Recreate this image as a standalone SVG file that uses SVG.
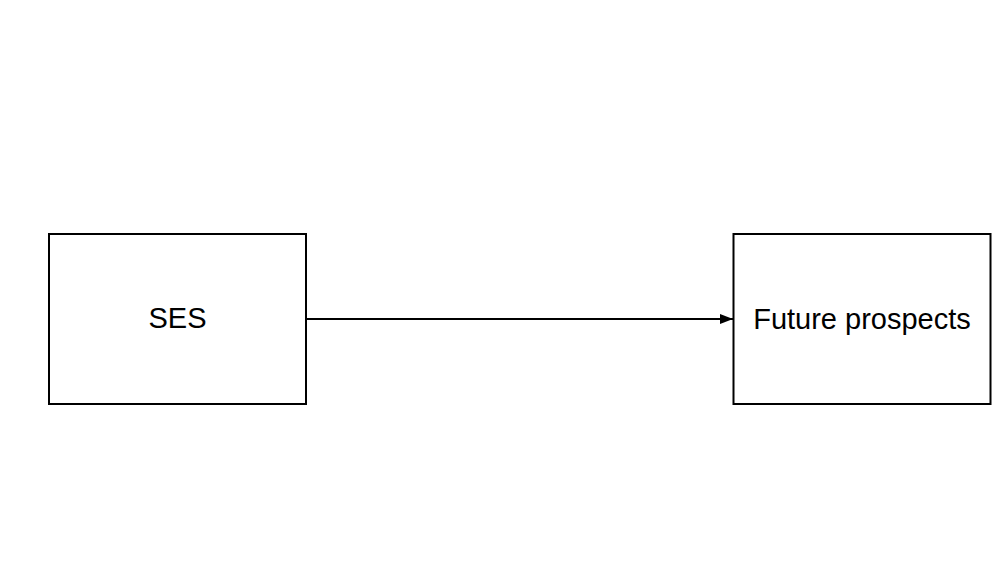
<svg xmlns="http://www.w3.org/2000/svg" width="1000" height="580" viewBox="0 0 1000 580">
<style>
.box{fill:#fff;stroke:#000;stroke-width:2}
.lbl{font-family:"Liberation Sans",Arial,sans-serif;font-size:29px;fill:#000;text-anchor:middle}
.edge{stroke:#000;stroke-width:2;fill:none}
</style>
<defs>
<marker id="arr" markerUnits="userSpaceOnUse" markerWidth="14" markerHeight="12" refX="13" refY="5" orient="auto">
<path d="M0,0 L13,5 L0,10 Z" fill="#000"/>
</marker>
</defs>
<rect width="1000" height="580" fill="#fff"/>
<g id="connectors">
<line class="edge" x1="306" y1="319" x2="733" y2="319" marker-end="url(#arr)"/>
</g>
<g id="ses">
<rect class="box" x="49" y="234" width="257" height="170"/>
<text class="lbl" x="177.5" y="328">SES</text>
</g>
<g id="future">
<rect class="box" x="733.5" y="234" width="257" height="170"/>
<text class="lbl" x="862" y="328.5">Future prospects</text>
</g>
</svg>
